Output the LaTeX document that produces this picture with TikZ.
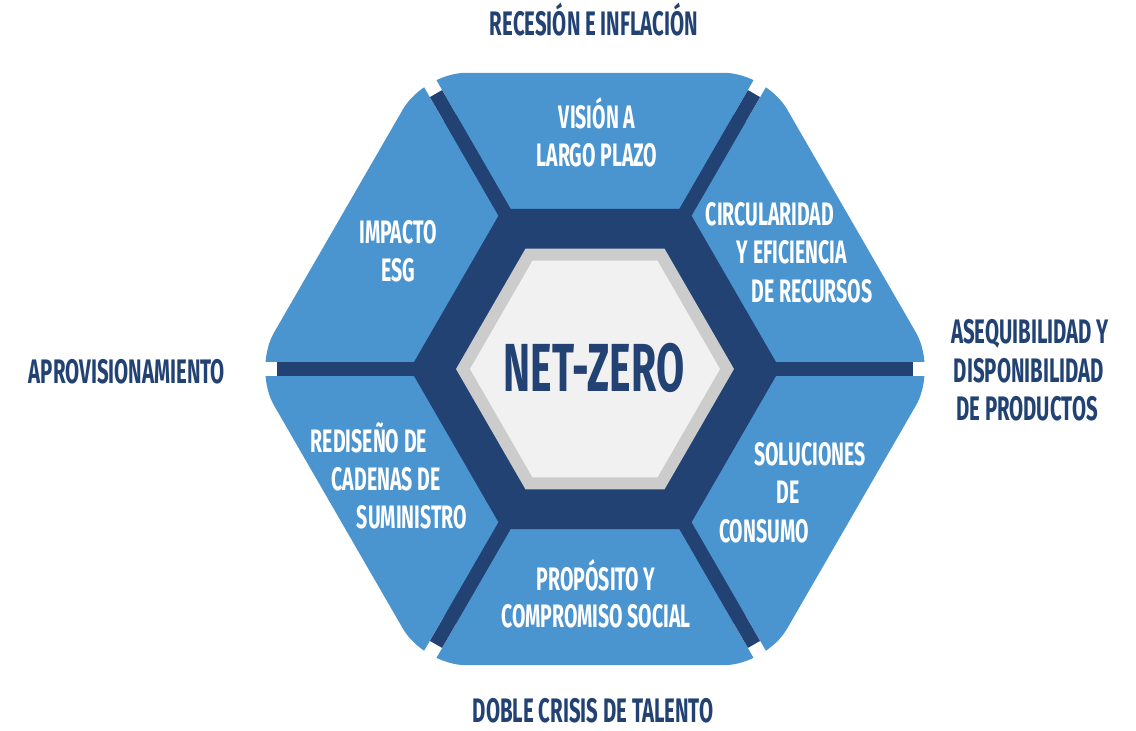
\documentclass[tikz,border=0pt]{standalone}
\usepackage{fontspec}
\setmainfont{Fira Sans}[FakeStretch=0.6]
\definecolor{lb}{RGB}{74,148,207}
\definecolor{db}{RGB}{33,66,115}
\definecolor{gr}{RGB}{203,204,203}
\definecolor{inn}{RGB}{241,241,241}
\begin{document}
\begin{tikzpicture}[x=1pt,y=-1pt,
  segtxt/.style={text=white,font=\bfseries\fontsize{32.5}{32.5}\selectfont,anchor=base,inner sep=0pt,text depth=0pt},
  outtxt/.style={text=db,font=\bfseries\fontsize{34}{34}\selectfont,anchor=base,inner sep=0pt,text depth=0pt},
  spoke/.style={db,line width=14pt},
  gap/.style={white,line width=14pt}]
\useasboundingbox (0,0) rectangle (1136,731);
\begin{scope}[shift={(595,369)}]
  \fill[lb,rounded corners=42pt] (30:296.2) -- (60:342) -- (120:342) -- (180:342) -- (240:342) -- (300:342) -- (0:342) -- cycle;
  \foreach \a in {0,60,...,300}{
    \draw[gap] (\a:290) -- (\a:360);
    \draw[spoke] (0,0) -- (\a:318);
  }
  \fill[db] (0:185) -- (60:185) -- (120:185) -- (180:185) -- (240:185) -- (300:185) -- cycle;
  \fill[gr] (0:139) -- (60:139) -- (120:139) -- (180:139) -- (240:139) -- (300:139) -- cycle;
  \fill[inn] (0:125) -- (60:125) -- (120:125) -- (180:125) -- (240:125) -- (300:125) -- cycle;
\end{scope}
\node[text=db,font=\bfseries\fontsize{68}{68}\selectfont,anchor=base,inner sep=0pt,text depth=0pt] (nz) at (594,391) {NET-ZERO};
% segment labels
\node[segtxt] (v1) at (597,128) {VISIÓN A};
\node[segtxt] (v2) at (597,166) {LARGO PLAZO};
\node[segtxt] (c1) at (770,225) {CIRCULARIDAD};
\node[segtxt] (c2) at (792,263) {Y EFICIENCIA};
\node[segtxt] (c3) at (812,302) {DE RECURSOS};
\node[segtxt] (s1) at (810,465) {SOLUCIONES};
\node[segtxt] (s2) at (788,503) {DE};
\node[segtxt] (s3) at (764,542) {CONSUMO};
\node[segtxt] (p1) at (596,590) {PROPÓSITO Y};
\node[segtxt] (p2) at (596,627) {COMPROMISO SOCIAL};
\node[segtxt] (r1) at (369,452) {REDISEÑO DE};
\node[segtxt] (r2) at (386,490) {CADENAS DE};
\node[segtxt] (r3) at (412,528) {SUMINISTRO};
\node[segtxt] (i1) at (398,243) {IMPACTO};
\node[segtxt] (i2) at (398,281) {ESG};
% outer labels
\node[outtxt] (o1) at (594,35) {RECESIÓN E INFLACIÓN};
\node[outtxt] (o2) at (127,383) {APROVISIONAMIENTO};
\node[outtxt] (o3a) at (1030,343) {ASEQUIBILIDAD Y};
\node[outtxt] (o3b) at (1029,382) {DISPONIBILIDAD};
\node[outtxt] (o3c) at (1027,420) {DE PRODUCTOS};
\node[outtxt] (o4) at (593,722) {DOBLE CRISIS DE TALENTO};
\end{tikzpicture}
\end{document}
